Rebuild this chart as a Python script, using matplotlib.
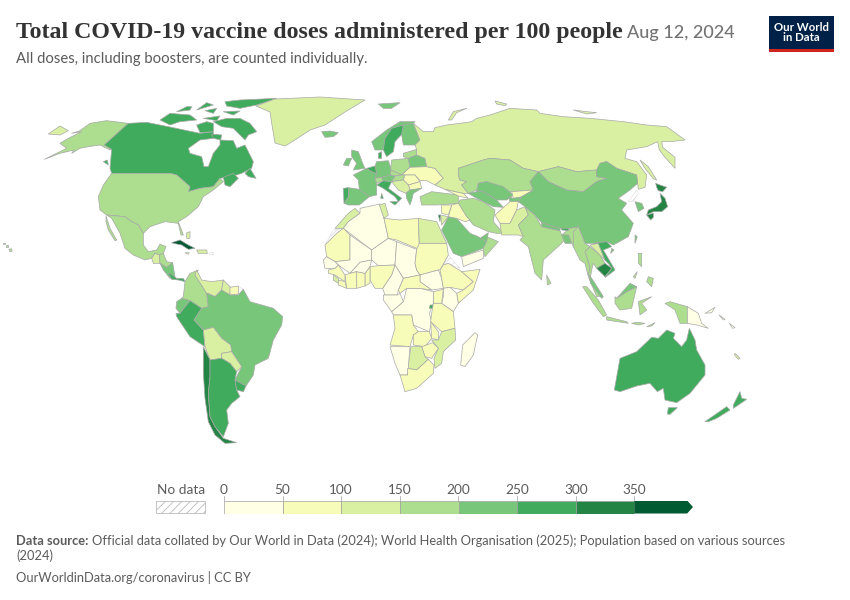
import matplotlib
matplotlib.use('Agg')
from matplotlib import pyplot as plt
from matplotlib.colors import BoundaryNorm, ListedColormap
from matplotlib.patches import Polygon, Rectangle

plt.rcParams['font.family'] = ['Lato', 'DejaVu Sans']
plt.rcParams['hatch.linewidth'] = 0.6

# legend
bin_edges = [0, 50, 100, 150, 200, 250, 300, 350, 400]
bin_colors = ['#ffffe5', '#f7fcb9', '#d9f0a3', '#addd8e', '#78c679', '#41ab5d', '#238443', '#005a32']
tick_labels = ['0', '50', '100', '150', '200', '250', '300', '350']


# outlines in crops, 3x scale
def crop(x0, y0, pts):
    return [(x0 + x / 3, y0 + y / 3) for x, y in pts]


def na(pts):
    return crop(0, 90, pts)


def sa(pts):
    return crop(140, 250, pts)


def eu(pts):
    return crop(320, 90, pts)


def af(pts):
    return crop(310, 200, pts)


def asia(pts):
    return crop(490, 100, pts)


def oc(pts):
    return crop(570, 260, pts)


# north america
alaska = na([(133, 208), (200, 175), (180, 160), (205, 145), (245, 125), (215, 130), (240, 122), (270, 100), (320, 92), (385, 100), (313, 165), (335, 178), (330, 180), (300, 165), (265, 170), (240, 175), (215, 190), (222, 180), (180, 190)])
alaska_island = na([(145, 132), (180, 108), (205, 122), (180, 135)])
canada = na([(385, 100), (440, 97), (505, 110), (600, 130), (640, 125), (640, 145), (600, 150), (565, 175), (570, 190), (605, 200), (612, 230), (625, 230), (640, 190), (660, 165), (660, 150), (700, 152), (710, 175), (735, 165), (760, 215), (755, 235), (725, 250), (700, 258), (660, 265), (640, 290), (600, 295), (565, 305), (570, 290), (530, 255), (510, 250), (335, 250), (330, 235), (335, 178), (313, 165)])
maritimes = na([(670, 262), (700, 250), (715, 265), (690, 290), (675, 285)])
newfoundland = na([(735, 250), (750, 235), (768, 265), (745, 260)])
baffin = na([(640, 95), (680, 85), (720, 85), (750, 100), (770, 125), (745, 135), (735, 150), (715, 130), (700, 115), (665, 110)])
ellesmere = na([(675, 35), (720, 30), (830, 25), (770, 45), (720, 55), (680, 48)])
victoria = na([(480, 90), (510, 70), (570, 75), (590, 90), (540, 95), (510, 105)])
banks = na([(530, 65), (560, 50), (575, 50), (570, 60)])
arctic_a = na([(615, 62), (650, 55), (640, 70)])
arctic_b = na([(670, 65), (720, 63), (700, 75)])
arctic_c = na([(590, 60), (640, 45), (620, 38)])
arctic_d = na([(610, 85), (660, 78), (650, 92)])
melville = na([(590, 105), (620, 95), (640, 100), (640, 125), (600, 128)])
southampton = na([(635, 132), (665, 135), (662, 150), (640, 145)])
vancouver = na([(310, 215), (322, 210), (325, 225)])
usa = na([(335, 250), (510, 250), (530, 255), (570, 290), (565, 305), (600, 295), (640, 290), (660, 265), (670, 275), (640, 300), (610, 320), (595, 350), (560, 380), (535, 395), (550, 435), (543, 435), (535, 400), (495, 395), (450, 410), (430, 430), (415, 405), (395, 395), (375, 380), (320, 375), (300, 360), (295, 320), (310, 285)])
hawaii = na([(27, 478), (35, 476), (36, 484), (29, 484)])
hawaii_b = na([(8, 458), (14, 458), (14, 462), (8, 462)])
hawaii_c = na([(18, 466), (24, 466), (24, 470), (18, 470)])
mexico = na([(320, 375), (375, 380), (395, 395), (415, 405), (430, 430), (430, 465), (445, 485), (470, 480), (480, 462), (498, 470), (490, 490), (478, 495), (465, 490), (455, 505), (435, 510), (400, 495), (375, 475), (360, 430), (335, 385)])
baja = na([(318, 378), (330, 415), (350, 450), (345, 452), (325, 420), (318, 395)])
guatemala = na([(455, 505), (465, 490), (478, 495), (480, 520), (460, 520)])
honduras = na([(478, 495), (490, 490), (500, 515), (518, 518), (500, 532), (480, 520)])
nicaragua = na([(480, 520), (500, 532), (518, 518), (525, 560), (510, 565), (490, 540)])
panama = sa([(85, 70), (90, 70), (110, 85), (130, 85), (135, 95), (115, 90), (95, 88)])
cuba = na([(515, 458), (540, 450), (565, 465), (585, 475), (565, 478), (545, 465), (520, 460)])
hispaniola = na([(590, 480), (620, 480), (622, 490), (595, 490)])
jamaica = na([(555, 488), (568, 488), (565, 493)])
bahamas = na([(560, 428), (570, 425), (570, 445), (560, 445)])
puerto_rico = na([(628, 486), (640, 486), (640, 492), (628, 492)])
greenland = na([(768, 48), (825, 27), (960, 21), (1095, 30), (1035, 66), (975, 105), (930, 120), (885, 150), (855, 168), (825, 159), (816, 105), (810, 66)])

# south america
colombia = sa([(130, 140), (135, 95), (150, 70), (175, 60), (165, 75), (200, 130), (205, 170), (185, 175), (150, 152), (125, 145)])
venezuela = sa([(170, 60), (185, 90), (215, 95), (250, 90), (245, 120), (225, 140), (205, 130), (200, 130), (165, 75)])
guyana = sa([(250, 90), (272, 112), (270, 135), (250, 125), (245, 120)])
suriname = sa([(270, 112), (295, 108), (295, 132), (270, 135)])
french_guiana = sa([(295, 108), (310, 118), (295, 135)])
ecuador = sa([(110, 155), (125, 145), (150, 152), (120, 190), (108, 175)])
peru = sa([(108, 190), (120, 190), (150, 152), (185, 175), (162, 210), (190, 240), (195, 290), (150, 260), (110, 200)])
brazil = sa([(162, 210), (185, 175), (205, 170), (200, 130), (225, 140), (245, 120), (270, 135), (295, 135), (310, 118), (330, 155), (400, 175), (428, 200), (425, 225), (400, 270), (385, 325), (345, 345), (340, 375), (318, 408), (285, 390), (305, 350), (275, 305), (272, 285), (245, 265), (220, 232), (190, 240)])
bolivia = sa([(190, 240), (220, 232), (245, 265), (272, 285), (275, 305), (245, 310), (245, 325), (210, 330), (195, 290)])
paraguay = sa([(245, 310), (275, 305), (305, 350), (290, 365), (270, 340), (245, 325)])
chile = sa([(190, 290), (210, 330), (210, 380), (205, 430), (210, 500), (225, 530), (250, 565), (290, 578), (255, 580), (225, 555), (205, 515), (195, 445), (190, 370)])
argentina = sa([(210, 330), (245, 325), (270, 340), (290, 365), (285, 390), (290, 420), (300, 440), (275, 460), (260, 480), (265, 520), (250, 560), (225, 530), (210, 500), (205, 430), (210, 380)])
uruguay = sa([(285, 390), (318, 408), (310, 425), (290, 420)])

# europe
iceland = eu([(5, 125), (30, 123), (55, 128), (40, 140), (15, 142)])
svalbard = eu([(175, 42), (240, 38), (215, 55), (190, 55)])
norway = eu([(155, 155), (200, 120), (240, 95), (285, 95), (280, 100), (250, 105), (215, 115), (195, 145), (190, 180), (165, 180)])
sweden = eu([(195, 145), (215, 115), (250, 105), (248, 130), (225, 155), (220, 185), (200, 200), (190, 180)])
finland = eu([(250, 105), (280, 100), (300, 150), (285, 165), (250, 165), (245, 135)])
denmark = eu([(175, 190), (185, 185), (185, 205), (175, 205)])
uk = eu([(95, 180), (115, 185), (130, 225), (135, 235), (100, 240), (110, 220), (95, 200)])
ireland = eu([(70, 225), (80, 205), (95, 205), (85, 228)])
france = eu([(100, 255), (130, 240), (140, 235), (155, 245), (170, 250), (165, 265), (170, 280), (170, 315), (148, 320), (118, 298), (115, 270)])
spain = eu([(85, 293), (118, 298), (148, 320), (118, 345), (85, 345), (72, 340), (85, 320)])
portugal = eu([(70, 295), (85, 293), (85, 320), (72, 340)])
germany = eu([(170, 215), (205, 212), (215, 240), (212, 255), (185, 262), (165, 265), (170, 250), (165, 228)])
benelux = eu([(140, 235), (165, 228), (170, 250), (155, 245)])
italy = eu([(170, 285), (190, 272), (215, 275), (205, 295), (245, 325), (235, 335), (225, 320), (190, 295)])
sicily = eu([(210, 335), (235, 335), (225, 345)])
sardinia = eu([(185, 310), (190, 325), (182, 325)])
switzerland = eu([(165, 265), (185, 262), (190, 272), (170, 280)])
austria = eu([(185, 262), (212, 255), (225, 258), (215, 275), (190, 272)])
poland = eu([(215, 210), (265, 205), (270, 232), (245, 255), (212, 240)])
baltics = eu([(250, 190), (290, 178), (290, 195), (265, 205), (250, 200)])
belarus = eu([(265, 205), (290, 195), (315, 205), (320, 230), (270, 232)])
ukraine = eu([(270, 232), (320, 230), (345, 235), (370, 265), (345, 285), (320, 272), (300, 272), (285, 255), (245, 255)])
czechia = eu([(212, 240), (245, 255), (225, 258), (212, 255)])
hungary = eu([(225, 258), (245, 255), (255, 255), (250, 270), (215, 275)])
romania = eu([(255, 255), (285, 255), (300, 275), (265, 285), (250, 270)])
bulgaria = eu([(265, 285), (300, 275), (305, 295), (270, 300)])
balkans = eu([(215, 275), (250, 270), (265, 285), (270, 300), (258, 310), (235, 300)])
greece = eu([(258, 310), (270, 300), (305, 295), (280, 310), (275, 330), (270, 345), (260, 325)])
turkey = eu([(300, 320), (335, 305), (415, 315), (415, 340), (350, 345), (305, 345)])
caucasus = eu([(375, 298), (430, 310), (445, 325), (415, 318)])
russia = eu([(280, 100), (310, 125), (340, 125), (345, 113), (380, 105), (420, 100), (455, 95), (470, 85), (510, 75)]) + asia([(60, 25), (140, 30), (150, 40), (220, 50), (300, 55), (400, 65), (470, 75), (530, 80), (585, 120), (540, 125), (515, 125), (518, 142), (555, 172), (555, 205), (525, 172), (508, 150), (503, 125), (470, 140), (410, 150), (405, 175), (440, 185), (470, 225), (465, 262), (445, 268), (440, 225), (380, 205), (350, 185), (330, 190), (320, 210), (260, 215), (205, 200), (145, 215), (100, 205), (60, 180), (0, 175)]) + eu([(490, 210), (415, 235), (415, 255), (420, 270), (440, 275), (425, 285), (445, 310), (430, 310), (375, 298), (345, 285), (370, 265), (345, 235), (320, 230), (315, 205), (290, 195), (290, 178), (285, 165), (300, 150)])
novaya_zemlya = eu([(385, 90), (400, 65), (440, 55), (410, 68), (395, 90)])
franz_josef = eu([(525, 33), (560, 42), (555, 47), (530, 42)])
arctic_east = asia([(250, 30), (290, 35), (320, 38), (290, 42)])
sakhalin = asia([(450, 180), (475, 200), (500, 240), (490, 236), (465, 205)])

# central and south asia
kazakhstan = eu([(415, 235), (490, 210)]) + asia([(0, 175), (60, 180), (100, 205), (145, 215), (120, 245), (130, 270), (65, 275)]) + eu([(530, 300), (500, 275), (475, 280), (470, 300), (445, 310), (425, 285), (440, 275), (420, 270), (415, 255)])
uzbekistan = eu([(475, 280), (500, 275), (550, 290), (580, 315), (560, 330), (530, 330), (490, 305), (470, 305)])
turkmenistan = eu([(445, 310), (470, 305), (490, 305), (530, 330), (550, 352), (520, 350), (470, 325)])
kyrgyzstan = asia([(65, 275), (130, 270), (95, 290), (70, 295)])
tajikistan = asia([(55, 290), (70, 295), (95, 292), (85, 305), (60, 305)])
iran = af([(445, 10), (450, 0), (490, -5), (520, 5), (555, 30), (550, 65), (580, 100), (560, 100), (535, 95), (490, 75), (470, 50)])
afghanistan = asia([(15, 345), (60, 305), (85, 305), (80, 330), (60, 370), (30, 370)])
pakistan = asia([(30, 370), (60, 370), (80, 330), (105, 320), (115, 345), (85, 375), (100, 410), (85, 405), (35, 405)])
india = asia([(105, 320), (135, 345), (155, 380), (210, 392), (215, 405), (240, 385), (265, 380), (250, 440), (235, 405), (215, 430), (160, 480), (155, 540), (135, 520), (115, 440), (90, 420), (100, 410), (85, 375), (115, 345)])
sri_lanka = asia([(170, 525), (183, 550), (172, 555)])
nepal = asia([(155, 368), (210, 385), (210, 392), (155, 380)])
bhutan = asia([(215, 380), (235, 382), (235, 392), (215, 390)])
bangladesh = asia([(215, 405), (235, 405), (245, 430), (225, 430)])
mongolia = asia([(145, 215), (205, 200), (260, 215), (320, 210), (320, 230), (350, 235), (320, 245), (280, 275), (230, 270), (175, 245)])
china = asia([(330, 190), (350, 185), (380, 205), (440, 225), (443, 250), (420, 270), (385, 295), (410, 310), (395, 330), (430, 370), (415, 410), (370, 435), (350, 425), (310, 430), (285, 430), (265, 380), (240, 385), (210, 385), (155, 368), (135, 345), (105, 320), (85, 305), (95, 290), (130, 270), (120, 245), (145, 215), (175, 245), (230, 270), (280, 275), (320, 245), (350, 235), (320, 230), (320, 210)])
north_korea = asia([(415, 305), (440, 270), (445, 280), (430, 305)])
south_korea = asia([(435, 305), (455, 310), (462, 325), (445, 335)])
hokkaido = asia([(497, 250), (510, 255), (530, 262), (518, 275), (505, 272), (500, 262)])
honshu = asia([(510, 280), (525, 295), (533, 320), (515, 335), (490, 335), (470, 345), (475, 330), (500, 320), (515, 305)])
kyushu = asia([(470, 345), (490, 340), (490, 352), (482, 360)])
taiwan = asia([(435, 405), (442, 410), (435, 430)])
hainan = asia([(365, 445), (372, 450), (362, 460)])
myanmar = asia([(250, 395), (265, 380), (285, 430), (300, 440), (285, 455), (300, 500), (295, 530), (285, 490), (270, 480), (250, 440)])
thailand = asia([(285, 455), (300, 440), (330, 465), (345, 490), (320, 505), (310, 490), (305, 510), (300, 540), (335, 590), (320, 590), (295, 530), (300, 500)])
laos = asia([(300, 435), (325, 430), (345, 480), (355, 490), (330, 465)])
vietnam = asia([(310, 430), (350, 425), (365, 440), (340, 450), (375, 510), (345, 533), (365, 505), (355, 490), (345, 480), (325, 430)])
cambodia = asia([(320, 505), (345, 490), (365, 505), (345, 530)])
luzon = asia([(445, 460), (455, 460), (455, 500), (445, 490)])
mindanao = asia([(475, 530), (490, 535), (485, 560), (470, 545)])
visayas = asia([(430, 530), (442, 515), (435, 535)])

# middle east
saudi = af([(415, 50), (440, 55), (480, 100), (505, 110), (530, 125), (520, 145), (455, 170), (430, 160), (395, 90)])
yemen = af([(455, 170), (520, 150), (520, 175), (460, 200)])
oman = af([(530, 110), (565, 125), (525, 170), (520, 150), (520, 145), (530, 125)])
uae = af([(510, 115), (535, 98), (530, 125)])
iraq = af([(425, 15), (445, 10), (470, 50), (480, 60), (465, 65), (440, 55), (415, 50)])
syria = af([(395, 15), (425, 15), (415, 45), (395, 40)])
jordan = af([(392, 45), (415, 50), (395, 75)])
israel = af([(385, 45), (392, 45), (390, 65)])

# africa
morocco = af([(135, 25), (150, 40), (115, 65), (100, 85), (75, 85), (115, 40)])
w_sahara = af([(45, 135), (70, 90), (100, 85), (80, 100)])
algeria = af([(150, 25), (210, 12), (222, 55), (235, 115), (185, 150), (100, 85), (115, 65), (150, 40)])
tunisia = af([(208, 15), (225, 10), (235, 45), (222, 55)])
libya = af([(222, 55), (270, 60), (325, 55), (328, 145), (320, 145), (260, 120), (235, 115)])
egypt = af([(325, 55), (380, 65), (410, 130), (328, 130)])
mauritania = af([(45, 135), (80, 100), (100, 85), (120, 105), (120, 180), (75, 185), (50, 170)])
mali = af([(120, 105), (185, 150), (185, 180), (150, 187), (120, 220), (85, 195), (75, 185), (120, 180)])
niger = af([(185, 150), (235, 115), (260, 125), (255, 195), (205, 197), (185, 180)])
chad = af([(260, 125), (320, 148), (315, 190), (320, 210), (330, 225), (280, 235), (255, 195)])
sudan = af([(328, 130), (410, 130), (415, 165), (390, 210), (385, 210), (330, 225), (320, 210), (315, 190), (320, 148)])
south_sudan = af([(330, 225), (385, 210), (395, 235), (400, 265), (365, 270), (330, 245)])
eritrea = af([(415, 165), (450, 205), (415, 190), (400, 195)])
ethiopia = af([(390, 210), (400, 195), (415, 190), (455, 215), (490, 245), (460, 270), (420, 262), (400, 265), (395, 235)])
somalia = af([(455, 215), (510, 208), (490, 270), (445, 310), (440, 280), (460, 270), (490, 245)])
kenya = af([(400, 265), (420, 262), (440, 280), (445, 310), (430, 335), (395, 310), (400, 290)])
uganda = af([(370, 275), (400, 268), (395, 310), (370, 310)])
drc = af([(290, 265), (330, 265), (370, 275), (370, 310), (358, 340), (365, 365), (358, 395), (310, 375), (305, 345), (250, 345), (245, 335), (280, 305)])
rwanda = af([(360, 315), (372, 315), (370, 325), (358, 325)])
tanzania = af([(365, 340), (370, 310), (395, 310), (430, 335), (435, 385), (395, 395), (362, 365)])
car = af([(265, 270), (280, 235), (330, 225), (330, 245), (365, 270), (330, 265), (290, 265), (270, 280)])
cameroon = af([(218, 265), (245, 225), (255, 195), (280, 235), (265, 270), (262, 285), (225, 285)])
nigeria = af([(180, 200), (205, 197), (255, 195), (245, 225), (218, 265), (195, 265), (180, 240)])
benin = af([(165, 220), (180, 200), (180, 250), (165, 258)])
ghana = af([(140, 215), (165, 220), (165, 258), (140, 265)])
burkina = af([(120, 220), (150, 187), (185, 180), (180, 200), (165, 220), (140, 215)])
ivory_coast = af([(105, 225), (120, 220), (140, 215), (140, 265), (110, 265)])
guinea = af([(55, 210), (75, 205), (85, 195), (105, 225), (105, 245), (75, 225), (55, 220)])
sierra_leone = af([(70, 225), (85, 235), (85, 250), (70, 240)])
liberia = af([(85, 240), (105, 245), (110, 265), (85, 255)])
senegal = af([(40, 180), (50, 170), (75, 185), (85, 195), (75, 205), (45, 205)])
gabon = af([(220, 285), (262, 285), (270, 280), (280, 305), (245, 335), (220, 300)])
angola = af([(250, 345), (305, 345), (310, 375), (325, 395), (310, 405), (300, 440), (240, 435), (255, 385)])
zambia = af([(310, 405), (325, 395), (358, 395), (365, 415), (345, 440), (310, 435)])
malawi = af([(362, 365), (385, 395), (385, 420), (365, 415)])
mozambique = af([(395, 395), (435, 385), (437, 420), (400, 455), (395, 490), (375, 505), (372, 475), (385, 445), (365, 420), (385, 420)])
zimbabwe = af([(335, 440), (368, 428), (385, 445), (365, 475), (345, 470)])
botswana = af([(303, 440), (335, 440), (345, 470), (355, 478), (320, 510), (293, 505)])
namibia = af([(240, 440), (300, 440), (293, 525), (270, 525), (255, 490)])
south_africa = af([(293, 505), (320, 510), (355, 478), (372, 495), (370, 520), (320, 565), (285, 575), (270, 525), (293, 525)])
madagascar = af([(495, 398), (503, 405), (490, 465), (465, 500), (452, 495), (458, 435)])

# oceania
sumatra = oc([(38, 80), (50, 80), (85, 120), (110, 165), (100, 170), (70, 130)])
malay = oc([(58, 45), (75, 70), (100, 110), (95, 115), (80, 95), (62, 70)])
java = oc([(110, 170), (170, 185), (175, 190), (110, 180)])
borneo = oc([(135, 110), (140, 115), (170, 95), (200, 80), (185, 145), (150, 150), (135, 130)])
sarawak = oc([(140, 115), (180, 70), (200, 80), (170, 95)])
sulawesi = oc([(205, 125), (245, 110), (215, 130), (230, 150), (210, 165)])
papua = oc([(285, 130), (300, 125), (352, 140), (352, 190), (330, 190), (315, 150)])
png = oc([(352, 140), (385, 160), (395, 190), (415, 205), (380, 195), (352, 190)])
lesser_sunda = oc([(185, 190), (200, 187), (225, 190), (205, 195)])
timor = oc([(230, 200), (255, 188), (245, 198)])
australia = oc([(133, 390), (150, 295), (200, 275), (245, 232), (265, 235), (290, 210), (315, 220), (310, 235), (335, 260), (350, 240), (358, 205), (375, 240), (380, 270), (405, 315), (405, 345), (360, 400), (320, 428), (285, 420), (280, 385), (262, 395), (240, 370), (200, 378), (150, 395)])
tasmania = oc([(295, 443), (322, 443), (300, 463), (292, 462)])
nz_south = oc([(405, 485), (470, 440), (480, 450), (440, 475), (415, 485)])
nz_north = oc([(490, 435), (510, 395), (515, 415), (530, 418), (505, 435), (490, 445)])
new_caledonia = oc([(495, 280), (510, 295), (505, 298), (493, 284)])
new_britain = oc([(405, 160), (435, 142), (425, 158)])
solomons = oc([(447, 165), (465, 178), (460, 180)])
solomons_b = oc([(478, 190), (495, 203), (488, 205)])

# estimated doses per 100 people
shapes = [
    (alaska, 175), (alaska_island, 125), (canada, 270), (maritimes, 270), (newfoundland, 270), (baffin, 270),
    (ellesmere, 270), (victoria, 270), (banks, 270), (arctic_a, 270), (arctic_b, 270), (arctic_c, 270),
    (arctic_d, 270), (melville, 270), (southampton, 270), (vancouver, 270), (usa, 175), (hawaii, 175),
    (hawaii_b, 175), (hawaii_c, 175), (mexico, 170), (baja, 170),
    (guatemala, 110), (honduras, 160), (nicaragua, 220), (panama, 260), (cuba, 390), (hispaniola, 120),
    (jamaica, 80), (bahamas, 120), (greenland, 130),
    (colombia, 175), (venezuela, 130), (guyana, 130), (suriname, 90), (ecuador, 210), (peru, 270),
    (brazil, 230), (bolivia, 130), (paraguay, 120), (chile, 320), (argentina, 265), (uruguay, 270),
    (iceland, 225), (svalbard, 210), (norway, 220), (sweden, 260), (finland, 225), (denmark, 270),
    (uk, 220), (ireland, 210), (france, 230), (spain, 220), (portugal, 290), (germany, 225), (benelux, 270),
    (italy, 290), (sicily, 290), (sardinia, 290), (switzerland, 160), (austria, 210), (poland, 155),
    (baltics, 170), (belarus, 210), (ukraine, 70), (czechia, 170), (hungary, 165), (romania, 80),
    (bulgaria, 60), (balkans, 100), (greece, 220), (turkey, 175), (caucasus, 90), (russia, 130),
    (novaya_zemlya, 130), (franz_josef, 130), (arctic_east, 130), (sakhalin, 130),
    (kazakhstan, 160), (uzbekistan, 210), (turkmenistan, 210), (kyrgyzstan, 70), (tajikistan, 220), (iran, 175),
    (afghanistan, 60), (pakistan, 130), (india, 160), (sri_lanka, 180), (nepal, 210), (bhutan, 260),
    (bangladesh, 220), (mongolia, 165), (china, 240), (south_korea, 240), (hokkaido, 320), (honshu, 320),
    (kyushu, 320), (taiwan, 230), (hainan, 240), (myanmar, 160), (thailand, 190), (laos, 130),
    (vietnam, 270), (cambodia, 310), (luzon, 170), (mindanao, 170), (visayas, 170),
    (saudi, 210), (yemen, 10), (oman, 160), (uae, 230), (iraq, 60), (syria, 60), (jordan, 100), (israel, 310),
    (morocco, 125), (algeria, 30), (tunisia, 120), (libya, 70), (egypt, 120), (mauritania, 80), (mali, 30),
    (niger, 30), (chad, 30), (sudan, 60), (south_sudan, 30), (ethiopia, 70), (somalia, 70), (kenya, 40),
    (uganda, 70), (drc, 25), (rwanda, 260), (tanzania, 70), (car, 70), (cameroon, 20), (nigeria, 70),
    (benin, 60), (ghana, 65), (burkina, 30), (ivory_coast, 75), (guinea, 60), (sierra_leone, 110), (liberia, 90),
    (senegal, 20), (gabon, 25), (angola, 70), (zambia, 70), (malawi, 50), (mozambique, 120), (zimbabwe, 70),
    (botswana, 130), (namibia, 30), (south_africa, 70), (madagascar, 10),
    (sumatra, 170), (malay, 220), (java, 170), (borneo, 170), (sarawak, 220), (sulawesi, 170), (papua, 170),
    (png, 10), (lesser_sunda, 170), (timor, 170), (australia, 265), (tasmania, 265), (nz_south, 265),
    (nz_north, 265), (new_caledonia, 140), (new_britain, 10), (solomons, 40), (solomons_b, 40),
]
no_data_shapes = [w_sahara, eritrea, north_korea, french_guiana, puerto_rico]

cmap = ListedColormap(bin_colors)
norm = BoundaryNorm(bin_edges, cmap.N)

fig = plt.figure(figsize=(8.5, 6), dpi=100)
ax = fig.add_axes([0, 0, 1, 1])
ax.set_xlim(0, 850)
ax.set_ylim(600, 0)
ax.axis('off')

edge = '#a8a8a8'
for outline in no_data_shapes:
    ax.add_patch(Polygon(outline, facecolor='white', edgecolor='#dddddd', hatch='////', lw=0.4))
for outline, value in shapes:
    ax.add_patch(Polygon(outline, facecolor=cmap(norm(value)), edgecolor=edge, lw=0.5, joinstyle='round'))

# header
ax.text(16, 38, 'Total COVID-19 vaccine doses administered per 100 people', family=['Liberation Serif'],
        weight='bold', fontsize=17.2, color='#333333')
ax.text(627, 38, 'Aug 12, 2024', fontsize=13, color='#737373', weight='medium')
ax.text(16, 63, 'All doses, including boosters, are counted individually.', fontsize=10.75, color='#5b5b5b')

# logo
ax.add_patch(Rectangle((769, 16), 65, 33, facecolor='#002147', edgecolor='none'))
ax.add_patch(Rectangle((769, 49), 65, 3, facecolor='#ce261e', edgecolor='none'))
ax.text(801.5, 32.5, 'Our World\nin Data', color='white', weight='bold', fontsize=8.2, ha='center', va='center',
        linespacing=0.95)

# legend
ax.text(181, 494, 'No data', fontsize=9.8, color='#5b5b5b', ha='center')
ax.add_patch(Rectangle((156, 501), 49, 12, facecolor='white', edgecolor='#bbbbbb', hatch='////', lw=0.6))
leg = fig.add_axes([224 / 850, 1 - 513.5 / 600, (693 - 224) / 850, 13 / 600])
leg.set_xlim(bin_edges[0], bin_edges[-1])
leg.set_ylim(0, 1)
leg.axis('off')
for i, color in enumerate(bin_colors[:-1]):
    leg.bar(bin_edges[i], 1, width=bin_edges[i + 1] - bin_edges[i], align='edge', color=color,
            edgecolor='#a0a0a0', lw=0.5)
leg.add_patch(Polygon([(350, 0), (395, 0), (400, 0.5), (395, 1), (350, 1)], facecolor=bin_colors[-1],
                      edgecolor='none'))
for edge_value, label in zip(bin_edges[:-1], tick_labels):
    x = 224 + edge_value * (693 - 224) / 400
    ax.plot([x, x], [496, 501], color='#a0a0a0', lw=0.5)
    ax.text(x, 494, label, fontsize=9.8, color='#5b5b5b', ha='center')

# footer
ax.text(16, 545, 'Data source:', fontsize=9.3, weight='bold', color='#5b5b5b')
ax.text(92, 545, 'Official data collated by Our World in Data (2024); World Health Organisation (2025); Population based on various sources',
        fontsize=9.3, color='#5b5b5b')
ax.text(16, 560, '(2024)', fontsize=9.3, color='#5b5b5b')
ax.text(16, 582, 'OurWorldinData.org/coronavirus | CC BY', fontsize=9.3, color='#5b5b5b')

plt.savefig('out.png', dpi=100)
